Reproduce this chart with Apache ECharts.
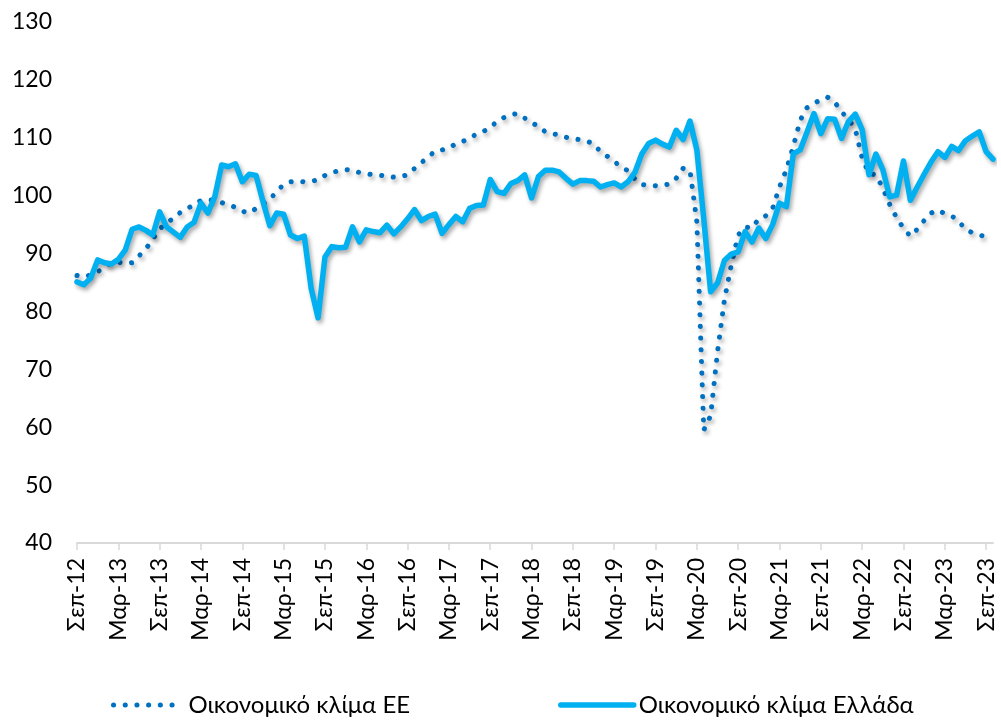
<!DOCTYPE html>
<html>
<head>
<meta charset="utf-8">
<script src="https://cdn.jsdelivr.net/npm/echarts@6/dist/echarts.min.js"></script>
<style>
  html, body { margin: 0; padding: 0; background: #fff; }
  #chart { width: 1001px; height: 723px; }
</style>
</head>
<body>
<div id="chart"></div>
<script>
// μήνες (Σεπ-12 ... Οκτ-23)
const monthNames = ['Ιαν','Φεβ','Μαρ','Απρ','Μαϊ','Ιουν','Ιουλ','Αυγ','Σεπ','Οκτ','Νοε','Δεκ'];
const startYear = 12, startMonth = 8, monthCount = 134;
const categories = [];
for (let k = 0; k < monthCount; k++) {
  const m = (startMonth + k) % 12;
  const y = startYear + Math.floor((startMonth + k) / 12);
  categories.push(monthNames[m] + '-' + y);
}

// Οικονομικό κλίμα Ελλάδα
const greece = [85.1,84.6,85.8,88.9,88.4,88.2,89.0,90.6,94.2,94.6,
  94.0,93.2,97.2,94.6,93.7,92.8,94.6,95.4,98.7,97.0,
  99.8,105.3,105.0,105.5,102.4,103.7,103.5,99.0,94.8,97.0,
  96.8,93.2,92.6,93.0,84.0,78.9,89.4,91.2,91.0,91.1,
  94.6,92.0,94.1,93.8,93.6,94.9,93.4,94.6,96.0,97.6,
  95.7,96.4,96.8,93.5,95.0,96.4,95.5,97.8,98.3,98.4,
  102.8,100.7,100.4,102.1,102.6,103.6,99.6,103.3,104.4,104.4,
  104.1,103.0,102.0,102.6,102.6,102.5,101.5,101.9,102.2,101.5,
  102.4,104.0,107.2,109.0,109.6,108.9,108.4,111.3,109.7,112.9,
  107.9,96.0,83.4,84.9,88.8,89.9,90.3,93.8,92.0,94.4,
  92.6,95.0,98.7,98.1,107.2,107.9,111.0,114.2,110.7,113.3,
  113.2,109.9,112.8,114.1,111.4,103.6,107.2,104.5,99.8,100.1,
  106.0,99.2,101.5,103.7,105.8,107.6,106.6,108.5,107.8,109.5,
  110.3,111.0,107.6,106.3];

// Οικονομικό κλίμα ΕΕ
const eu = [86.2,86.0,86.3,86.8,87.8,88.4,88.5,88.3,88.4,89.6,
  90.8,92.5,94.2,95.4,96.0,97.1,97.8,98.4,99.2,99.3,
  99.2,98.8,98.4,98.0,97.3,97.0,97.8,98.6,99.3,100.8,
  101.9,102.4,102.5,102.4,102.5,102.7,103.5,104.0,104.3,104.5,
  104.4,104.0,103.8,103.6,103.5,103.4,103.2,103.3,103.6,104.7,
  105.7,106.7,107.7,107.9,108.2,109.0,109.4,109.8,110.7,111.1,
  111.7,112.9,113.5,114.0,114.2,113.4,112.5,112.1,111.0,110.7,
  110.5,110.1,109.8,109.7,109.4,109.0,107.6,106.8,105.9,105.0,
  104.3,102.9,101.9,101.8,101.7,101.8,102.0,103.0,104.7,104.4,
  95.5,59.5,62.0,73.0,82.0,88.0,93.2,94.6,94.4,96.0,
  96.5,97.8,101.5,104.5,108.5,113.0,115.2,115.9,116.6,117.0,
  116.2,114.5,113.2,111.5,106.5,103.8,103.6,101.3,98.5,96.2,
  94.4,93.0,94.2,95.7,97.0,97.5,96.9,96.5,95.6,94.2,
  93.6,93.2,92.9,92.6];

const yMin = 40, yMax = 130, yStep = 10;

const font = 'Lato';
const shadow = {
  shadowColor: 'rgba(0,0,0,0.35)',
  shadowBlur: 4,
  shadowOffsetX: 2,
  shadowOffsetY: 3
};
// κρύβει τον κύκλο στο σύμβολο του υπομνήματος
const noMarker = { color: 'rgba(0,0,0,0)', borderColor: 'rgba(0,0,0,0)', borderWidth: 0, opacity: 0 };

const myChart = echarts.init(document.getElementById('chart'));
myChart.setOption({
  animation: false,
  backgroundColor: '#fff',
  textStyle: { fontFamily: font },
  grid: { left: 77, right: 8, top: 22, bottom: 180 },
  legend: [
    {
      data: ['Οικονομικό κλίμα ΕΕ'],
      left: 106, top: 688,
      itemWidth: 68, itemHeight: 14, itemGap: 4,
      itemStyle: noMarker,
      lineStyle: { color: '#0070c0', width: 5, type: [0.1, 11.6], cap: 'round' },
      textStyle: { color: '#000', fontSize: 24, fontFamily: font, padding: [0, 0, 0, 2] }
    },
    {
      data: ['Οικονομικό κλίμα Ελλάδα'],
      left: 553, top: 688,
      itemWidth: 73, itemHeight: 14, itemGap: 4,
      itemStyle: noMarker,
      lineStyle: { color: '#00b0f0', width: 5.5, type: 'solid', cap: 'round' },
      textStyle: { color: '#000', fontSize: 24, fontFamily: font }
    }
  ],
  xAxis: {
    type: 'category',
    data: categories,
    boundaryGap: false,
    axisLine: { lineStyle: { color: '#d9d9d9', width: 2 } },
    axisTick: { show: true, interval: 5, length: 7, lineStyle: { color: '#d9d9d9', width: 1.5 } },
    axisLabel: {
      interval: 5, rotate: 90, margin: 15,
      color: '#000', fontSize: 23, fontFamily: font
    },
    splitLine: { show: false }
  },
  yAxis: {
    type: 'value',
    min: yMin, max: yMax, interval: yStep,
    axisLine: { show: false },
    axisTick: { show: false },
    splitLine: { show: false },
    axisLabel: { color: '#000', fontSize: 23, margin: 25, fontFamily: font }
  },
  series: [
    {
      name: 'Οικονομικό κλίμα ΕΕ',
      type: 'line',
      data: eu,
      symbol: 'none',
      z: 2,
      lineStyle: Object.assign({
        color: '#0070c0', width: 5, type: [0.1, 11.6], cap: 'round', join: 'round'
      }, shadow),
      itemStyle: { color: '#0070c0' }
    },
    {
      name: 'Οικονομικό κλίμα Ελλάδα',
      type: 'line',
      data: greece,
      symbol: 'none',
      z: 3,
      lineStyle: Object.assign({
        color: '#00b0f0', width: 5.5, cap: 'round', join: 'round'
      }, shadow),
      itemStyle: { color: '#00b0f0' }
    }
  ]
});
</script>
</body>
</html>
